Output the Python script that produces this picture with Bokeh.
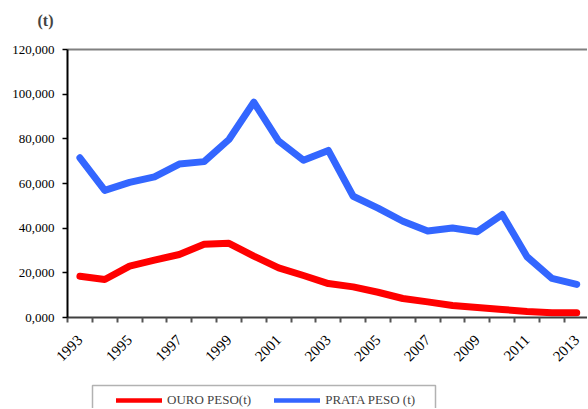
import math
from bokeh.plotting import figure
from bokeh.models import (Range1d, FixedTicker, NumeralTickFormatter, Legend, LegendItem,
                          Label, BoxAnnotation, ColumnDataSource, LinearAxis)
from bokeh.embed import file_html
from bokeh.resources import INLINE

years = list(range(1993, 2014))
ouro = [18500, 17000, 23000, 25700, 28200, 32800, 33200, 27500, 22200, 18800, 15200,
        13700, 11300, 8500, 7000, 5400, 4500, 3600, 2700, 2100, 2100]
prata = [71500, 56900, 60500, 63000, 68700, 69800, 79700, 96400, 79000, 70400, 74800,
         54300, 49000, 43100, 38700, 40100, 38400, 46100, 27200, 17500, 14800]
label_years = list(range(1993, 2014, 2))
y_ticks = [0, 20000, 40000, 60000, 80000, 100000, 120000]
y_max = 120000

FONT = "'Liberation Serif', 'Times New Roman', serif"

# canvas geometry (pixels)
W, H = 587, 408
PLOT_LEFT, PLOT_TOP, PLOT_BOTTOM = 67, 49, 317
STEP = 24.84  # px per category

x0 = years[0] - 0.5
x1 = years[-1] + 0.5
ppu_y = (PLOT_BOTTOM - PLOT_TOP) / y_max
x_start = x0 - PLOT_LEFT / STEP
x_end = x0 + (W - PLOT_LEFT) / STEP
y_end = y_max + PLOT_TOP / ppu_y
y_start = -(H - PLOT_BOTTOM) / ppu_y

src = ColumnDataSource(dict(year=years, ouro=ouro, prata=prata))
# source with no drawable point, used only for the legend swatches
swatch = ColumnDataSource(dict(year=[years[0]], v=[float("nan")]))

p = figure(width=W, height=H, output_backend="svg", toolbar_location=None,
           x_range=Range1d(x_start, x_end), y_range=Range1d(y_start, y_end),
           min_border=0)
p.outline_line_color = None
p.grid.visible = False
p.background_fill_color = "white"

p.line("year", "ouro", source=src, line_color="#FF0000", line_width=7,
       line_join="round", line_cap="round")
p.line("year", "prata", source=src, line_color="#3366FF", line_width=7,
       line_join="round", line_cap="round")
lg_ouro = p.line("year", "v", source=swatch, line_color="#FF0000", line_width=4.5, line_cap="round")
lg_prata = p.line("year", "v", source=swatch, line_color="#3366FF", line_width=4.5, line_cap="round")

# x axis at y = 0
xa = p.xaxis[0]
xa.fixed_location = 0
xa.bounds = (x0, x1)
xa.ticker = FixedTicker(ticks=label_years, minor_ticks=[y - 0.5 for y in years] + [x1])
xa.major_tick_line_color = None
xa.major_tick_out = 0
xa.major_tick_in = 0
xa.minor_tick_in = 0
xa.minor_tick_out = 5
xa.minor_tick_line_color = "#555555"
xa.minor_tick_line_width = 2
xa.axis_line_color = "#404040"
xa.axis_line_width = 2
xa.major_label_orientation = math.pi / 4
xa.major_label_text_font = FONT
xa.major_label_text_font_size = "15px"
xa.major_label_text_color = "black"
xa.major_label_standoff = 15

# y axis at first category edge
ya = p.yaxis[0]
ya.fixed_location = x0
ya.bounds = (0, y_max)
ya.ticker = FixedTicker(ticks=y_ticks)
ya.formatter = NumeralTickFormatter(format="0,0")
ya.major_label_overrides = {0: "0,000"}
ya.major_tick_in = 0
ya.major_tick_out = 5
ya.minor_tick_line_color = None
ya.axis_line_color = "black"
ya.axis_line_width = 2
ya.major_tick_line_width = 1.5
ya.major_label_text_font = FONT
ya.major_label_text_font_size = "13px"
ya.major_label_text_color = "black"
ya.major_label_standoff = 8

# top border line as a bare axis
top = LinearAxis(fixed_location=y_max, bounds=(x0, x1), ticker=FixedTicker(ticks=[]),
                 axis_line_color="#808080", axis_line_width=2,
                 major_tick_line_color=None, minor_tick_line_color=None,
                 major_label_text_font_size="0px")
p.add_layout(top, "above")

# unit label
p.add_layout(Label(x=37, y=H - 11, x_units="screen", y_units="screen", text="(t)",
                   text_font=FONT, text_font_size="16px", text_font_style="bold",
                   text_baseline="top", text_align="left"))

# legend box
p.add_layout(BoxAnnotation(left=92, right=435, top=H - 385, bottom=-20,
                           left_units="screen", right_units="screen",
                           top_units="screen", bottom_units="screen",
                           fill_alpha=0, line_color="black", line_width=1.5))

legend = Legend(items=[LegendItem(label="OURO PESO(t)", renderers=[lg_ouro]),
                       LegendItem(label="PRATA PESO (t)", renderers=[lg_prata])],
                orientation="horizontal", location=(116, H - 408),
                padding=0, margin=0, spacing=23, label_standoff=5,
                glyph_width=46, glyph_height=16, label_height=16,
                label_text_font=FONT, label_text_font_size="13px",
                border_line_alpha=0, background_fill_alpha=0)
p.add_layout(legend, "center")

open("out.html", "w").write(file_html(p, INLINE))
